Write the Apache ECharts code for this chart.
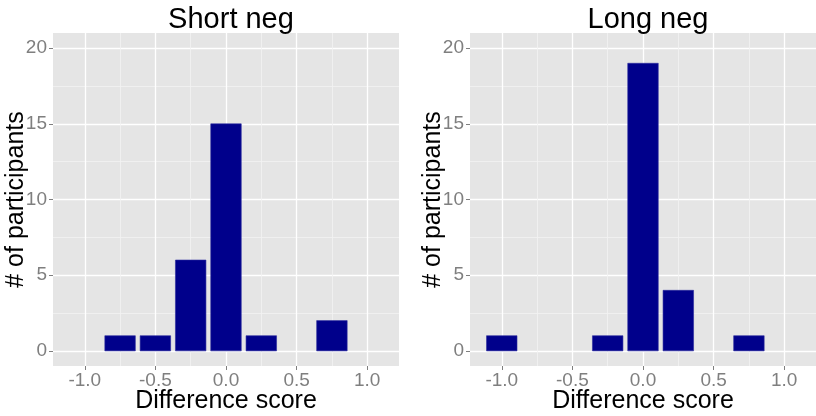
<!DOCTYPE html>
<html><head><meta charset="utf-8">
<script src="https://cdn.jsdelivr.net/npm/echarts@6/dist/echarts.min.js"></script>
<style>html,body{margin:0;padding:0;background:#fff}#c{width:816px;height:416px}</style>
</head><body><div id="c"></div>
<script>
const panelTitles = ['Short neg', 'Long neg'];
const xTicks = [-1.0, -0.5, 0.0, 0.5, 1.0];
const xMinor = [-0.75, -0.25, 0.25, 0.75];
const yTicks = [0, 5, 10, 15, 20];
const yMinor = [2.5, 7.5, 12.5, 17.5];
const shortNegX = [-0.75, -0.5, -0.25, 0.0, 0.25, 0.75];
const shortNegY = [1, 1, 6, 15, 1, 2];
const longNegX = [-1.0, -0.25, 0.0, 0.25, 0.75];
const longNegY = [1, 1, 19, 4, 1];

const panels = [
  { title: panelTitles[0], xs: shortNegX, ys: shortNegY, left: 53, center: 226 },
  { title: panelTitles[1], xs: longNegX, ys: longNegY, left: 470, center: 643 }
];
const XMIN = -1.225, XMAX = 1.225, YMIN = -1, YMAX = 21;
const HALF = 0.108;
const FONT = 'Liberation Sans, Arial, sans-serif';
const GREY = '#7F7F7F';

const grids = [], xAxes = [], yAxes = [], series = [], titles = [];
panels.forEach((p, i) => {
  grids.push({ left: p.left, top: 33, width: 346, height: 333, show: true,
    backgroundColor: '#E5E5E5', borderWidth: 0, containLabel: false, outerBoundsMode: 'none' });
  titles.push({ text: p.title, left: p.center, top: 0, textAlign: 'center',
    textStyle: { fontFamily: FONT, fontSize: 29, fontWeight: 'normal', color: '#000' } });
  // minor x
  xAxes.push({ type: 'value', gridIndex: i, position: 'bottom', min: XMIN, max: XMAX,
    axisLine: { show: false, onZero: false }, axisLabel: { show: false },
    axisTick: { show: false, customValues: xMinor },
    splitLine: { show: true, lineStyle: { color: '#F2F2F2', width: 0.8 } } });
  // major x
  xAxes.push({ type: 'value', gridIndex: i, position: 'bottom', min: XMIN, max: XMAX,
    name: 'Difference score', nameLocation: 'middle', nameGap: 23, nameMoveOverlap: false,
    nameTextStyle: { fontFamily: FONT, fontSize: 25, color: '#000' },
    axisLine: { show: false, onZero: false },
    axisTick: { show: true, length: 4, customValues: xTicks, lineStyle: { color: GREY, width: 1 } },
    axisLabel: { show: true, customValues: xTicks, margin: 5, fontFamily: FONT, fontSize: 19, color: GREY,
      formatter: v => v.toFixed(1) },
    splitLine: { show: true, lineStyle: { color: '#FFFFFF', width: 1.3 } } });
  // minor y
  yAxes.push({ type: 'value', gridIndex: i, position: 'left', min: YMIN, max: YMAX,
    axisLine: { show: false, onZero: false }, axisLabel: { show: false },
    axisTick: { show: false, customValues: yMinor },
    splitLine: { show: true, lineStyle: { color: '#F2F2F2', width: 0.8 } } });
  // major y
  yAxes.push({ type: 'value', gridIndex: i, position: 'left', min: YMIN, max: YMAX,
    name: '# of participants', nameLocation: 'middle', nameGap: 24, nameRotate: 90, nameMoveOverlap: false,
    nameTextStyle: { fontFamily: FONT, fontSize: 25, color: '#000' },
    axisLine: { show: false, onZero: false },
    axisTick: { show: true, length: 4, customValues: yTicks, lineStyle: { color: GREY, width: 1 } },
    axisLabel: { show: true, customValues: yTicks, margin: 6, fontFamily: FONT, fontSize: 19, color: GREY },
    splitLine: { show: true, lineStyle: { color: '#FFFFFF', width: 1.3 } } });
  series.push({
    type: 'custom', xAxisIndex: 2 * i + 1, yAxisIndex: 2 * i + 1,
    data: p.xs.map((x, k) => [x, p.ys[k]]),
    encode: { x: 0, y: 1 },
    renderItem: (params, api) => {
      const x = api.value(0), y = api.value(1);
      const a = api.coord([x - HALF, y]);
      const b = api.coord([x + HALF, 0]);
      return { type: 'rect', shape: { x: a[0], y: a[1], width: b[0] - a[0], height: b[1] - a[1] },
        style: { fill: '#00008B', stroke: '#2a2a9e', lineWidth: 0.6 } };
    }
  });
});

const chart = echarts.init(document.getElementById('c'), null, { renderer: 'canvas' });
chart.setOption({ animation: false, backgroundColor: '#fff', title: titles, grid: grids,
  xAxis: xAxes, yAxis: yAxes, series: series });
</script></body></html>
